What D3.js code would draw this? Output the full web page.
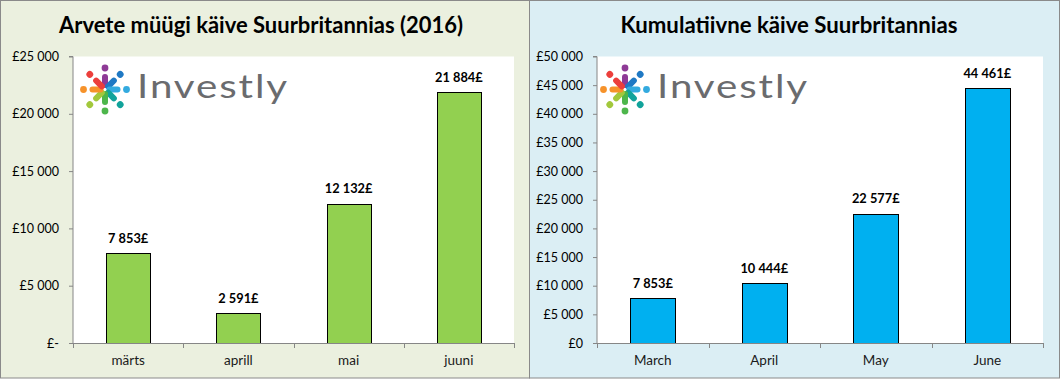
<!DOCTYPE html>
<html><head><meta charset="utf-8">
<script src="https://cdn.jsdelivr.net/npm/d3@7"></script>
<style>
html,body{margin:0;padding:0;background:#fff;}
svg{display:block;font-family:Lato,"Open Sans",sans-serif;}
</style></head>
<body>
<svg id="chart" width="1060" height="379"></svg>
<script>
// ---- data ----
const leftTitle = "Arvete müügi käive Suurbritannias (2016)";
const leftCategories = ["märts", "aprill", "mai", "juuni"];
const leftValues = [7853, 2591, 12132, 21884];
const leftTicks = [0, 5000, 10000, 15000, 20000, 25000];
const leftTickLabels = ["£-", "£5 000", "£10 000", "£15 000", "£20 000", "£25 000"];

const rightTitle = "Kumulatiivne käive Suurbritannias";
const rightCategories = ["March", "April", "May", "June"];
const rightValues = [7853, 10444, 22577, 44461];
const rightTicks = [0, 5000, 10000, 15000, 20000, 25000, 30000, 35000, 40000, 45000, 50000];
const rightTickLabels = ["£0", "£5 000", "£10 000", "£15 000", "£20 000", "£25 000", "£30 000", "£35 000", "£40 000", "£45 000", "£50 000"];

const logoColors = ["#8E3A96", "#1F79C4", "#33AADF", "#11A39B", "#4DB64B", "#A2C83C", "#F6922A", "#EC3F3C"];
const logoText = "Investly";

const fmtLabel = v => d3.format(",")(v).replace(/,/g, " ") + "£";

const svg = d3.select("#chart");

function panel(cfg) {
  const g = svg.append("g");
  g.append("rect").attr("x", cfg.px + 0.5).attr("y", 0.5)
    .attr("width", cfg.pw - 1).attr("height", 378 - 0.5)
    .attr("fill", cfg.bg).attr("stroke", "#8a8a8a").attr("stroke-width", 1);

  // title
  const t = g.append("text").attr("x", cfg.titleX).attr("y", 33)
    .attr("text-anchor", "middle").attr("font-weight", "bold")
    .attr("font-size", 22).attr("fill", "#000").text(cfg.title);
  const len = t.node().getComputedTextLength();
  t.attr("font-size", 22 * cfg.titleW / len);

  const x = d3.scaleBand().domain(cfg.cats).range([cfg.x0, cfg.x1])
    .paddingInner(0.6).paddingOuter(0.3);
  const y = d3.scaleLinear().domain([0, cfg.max]).range([343, 56.5]);

  g.append("rect").attr("x", cfg.x0).attr("y", y(cfg.max))
    .attr("width", cfg.x1 - cfg.x0).attr("height", y(0) - y(cfg.max)).attr("fill", "#fff");

  // logo
  const lg = g.append("g").attr("transform", `translate(${cfg.logoX},89.5)`);
  logoColors.forEach((c, i) => {
    const a = i * 45;
    const r = lg.append("g").attr("transform", `rotate(${a})`);
    r.append("circle").attr("cx", 0).attr("cy", -21.5).attr("r", 3.4).attr("fill", c);
    r.append("line").attr("x1", 0).attr("y1", -4.5).attr("x2", 0).attr("y2", -12.5)
      .attr("stroke", c).attr("stroke-width", 6).attr("stroke-linecap", "round");
  });
  lg.append("text").attr("x", 32).attr("y", 8.5).attr("font-size", 32)
    .attr("font-weight", 400).attr("fill", "#6a6b6e").attr("letter-spacing", 1.5)
    .attr("textLength", 152).attr("lengthAdjust", "spacingAndGlyphs").text(logoText);

  // y axis
  const yAxis = g.append("g").attr("transform", `translate(${cfg.x0},0)`)
    .call(d3.axisLeft(y).tickValues(cfg.ticks).tickSize(4).tickPadding(10)
      .tickFormat((d, i) => cfg.tickLabels[i]));
  yAxis.selectAll("path,line").attr("stroke", "#868686");
  yAxis.select(".domain").attr("d", `M-4,${y(cfg.max)}H0V${y(0)}`);
  yAxis.selectAll("text").attr("font-size", 12.5).attr("fill", "#000")
    .attr("font-family", "Lato, sans-serif");

  // bars
  g.selectAll(".bar").data(cfg.vals).enter().append("rect")
    .attr("x", (d, i) => Math.round(x(cfg.cats[i])) + 0.5)
    .attr("y", d => Math.round(y(d)) + 0.5)
    .attr("width", Math.round(x.bandwidth()))
    .attr("height", d => Math.round(y(0)) - Math.round(y(d)))
    .attr("fill", cfg.color).attr("stroke", "#000").attr("stroke-width", 1);

  g.selectAll(".lbl").data(cfg.vals).enter().append("text")
    .attr("x", (d, i) => x(cfg.cats[i]) + x.bandwidth() / 2)
    .attr("y", d => y(d) - 10.5)
    .attr("text-anchor", "middle").attr("font-weight", "bold")
    .attr("font-size", 12.8).attr("fill", "#000").text(d => fmtLabel(d));

  // x axis
  const xa = g.append("g");
  const bounds = d3.range(cfg.cats.length + 1).map(i => cfg.x0 + i * (cfg.x1 - cfg.x0) / cfg.cats.length);
  xa.append("line").attr("x1", cfg.x0).attr("x2", cfg.x1).attr("y1", 343.5).attr("y2", 343.5)
    .attr("stroke", "#868686");
  xa.selectAll(".tk").data(bounds).enter().append("line")
    .attr("x1", d => Math.round(d) + 0.5).attr("x2", d => Math.round(d) + 0.5)
    .attr("y1", 343).attr("y2", 348).attr("stroke", "#868686");
  xa.selectAll(".xl").data(cfg.cats).enter().append("text")
    .attr("x", d => x(d) + x.bandwidth() / 2).attr("y", 365)
    .attr("text-anchor", "middle").attr("font-size", 13.5).attr("fill", "#1a1a1a")
    .text(d => d);
}

panel({px: 0, pw: 530, bg: "#EBF0DF", title: leftTitle, titleX: 261, titleW: 404,
  cats: leftCategories, vals: leftValues, ticks: leftTicks, tickLabels: leftTickLabels,
  max: 25000, x0: 73, x1: 514, color: "#92D050", logoX: 105});
panel({px: 529, pw: 531, bg: "#DBEEF4", title: rightTitle, titleX: 789, titleW: 337,
  cats: rightCategories, vals: rightValues, ticks: rightTicks, tickLabels: rightTickLabels,
  max: 50000, x0: 597, x1: 1043, color: "#00B0F0", logoX: 625});
</script>
</body></html>
